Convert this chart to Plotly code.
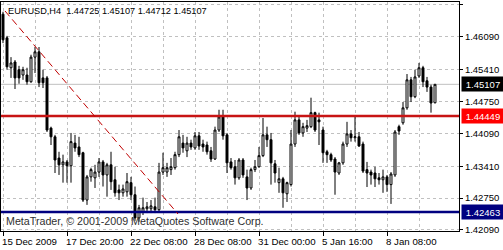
import plotly.graph_objects as go

# ---------------- data (EURUSD, H4) ----------------
opens = [1.4656, 1.4607, 1.4545, 1.4557, 1.4541, 1.4530, 1.4530, 1.4516, 1.4567, 1.4578,
         1.4524, 1.4524, 1.4420, 1.4402, 1.4358, 1.4344, 1.4350, 1.4342, 1.4389, 1.4381,
         1.4369, 1.4271, 1.4319, 1.4317, 1.4329, 1.4350, 1.4323, 1.4344, 1.4313, 1.4292,
         1.4286, 1.4288, 1.4307, 1.4282, 1.4234, 1.4247, 1.4253, 1.4253, 1.4257, 1.4251,
         1.4329, 1.4329, 1.4334, 1.4338, 1.4365, 1.4389, 1.4373, 1.4389, 1.4379, 1.4404,
         1.4387, 1.4385, 1.4373, 1.4356, 1.4416, 1.4443, 1.4406, 1.4350, 1.4340, 1.4317,
         1.4354, 1.4319, 1.4296, 1.4334, 1.4340, 1.4363, 1.4406, 1.4396, 1.4346, 1.4307,
         1.4315, 1.4284, 1.4303, 1.4387, 1.4437, 1.4410, 1.4420, 1.4423, 1.4452, 1.4437,
         1.4416, 1.4371, 1.4365, 1.4356, 1.4327, 1.4348, 1.4387, 1.4408, 1.4400, 1.4402,
         1.4387, 1.4334, 1.4329, 1.4327, 1.4317, 1.4313, 1.4319, 1.4303, 1.4323, 1.4423,
         1.4431, 1.4462, 1.4520, 1.4485, 1.4528, 1.4545, 1.4518, 1.4505, 1.44725]
highs = [1.4661, 1.4611, 1.4567, 1.4561, 1.4549, 1.4547, 1.4545, 1.4572, 1.4588, 1.4588,
         1.4541, 1.4528, 1.4423, 1.4406, 1.4371, 1.4365, 1.4354, 1.4410, 1.4406, 1.4402,
         1.4371, 1.4323, 1.4338, 1.4344, 1.4358, 1.4354, 1.4348, 1.4371, 1.4340, 1.4303,
         1.4303, 1.4327, 1.4319, 1.4299, 1.4261, 1.4276, 1.4267, 1.4271, 1.4276, 1.4348,
         1.4369, 1.4348, 1.4358, 1.4371, 1.4416, 1.4406, 1.4402, 1.4396, 1.4412, 1.4412,
         1.4396, 1.4392, 1.4381, 1.4423, 1.4458, 1.4458, 1.4410, 1.4358, 1.4354, 1.4358,
         1.4358, 1.4334, 1.4338, 1.4354, 1.4381, 1.4441, 1.4423, 1.4410, 1.4354, 1.4338,
         1.4319, 1.4309, 1.4416, 1.4454, 1.4447, 1.4431, 1.4437, 1.4483, 1.4454, 1.4452,
         1.4423, 1.4375, 1.4369, 1.4360, 1.4350, 1.4392, 1.4433, 1.4416, 1.4443, 1.4412,
         1.4392, 1.4350, 1.4334, 1.4340, 1.4327, 1.4334, 1.4323, 1.4329, 1.4416, 1.4427,
         1.4474, 1.4532, 1.4526, 1.4541, 1.4555, 1.4549, 1.4526, 1.4510, 1.45107]
lows = [1.4596, 1.4541, 1.4524, 1.4501, 1.4512, 1.4520, 1.4510, 1.4514, 1.4534, 1.4505,
        1.4503, 1.4412, 1.4385, 1.4327, 1.4323, 1.4307, 1.4307, 1.4307, 1.4371, 1.4360,
        1.4267, 1.4261, 1.4309, 1.4296, 1.4319, 1.4299, 1.4278, 1.4292, 1.4278, 1.4271,
        1.4278, 1.4278, 1.4271, 1.4228, 1.4226, 1.4240, 1.4244, 1.4244, 1.4244, 1.4247,
        1.4323, 1.4319, 1.4323, 1.4334, 1.4360, 1.4369, 1.4360, 1.4375, 1.4375, 1.4375,
        1.4371, 1.4365, 1.4350, 1.4354, 1.4412, 1.4396, 1.4327, 1.4334, 1.4303, 1.4313,
        1.4317, 1.4271, 1.4292, 1.4329, 1.4338, 1.4360, 1.4381, 1.4303, 1.4307, 1.4286,
        1.4255, 1.4267, 1.4299, 1.4381, 1.4406, 1.4402, 1.4412, 1.4420, 1.4412, 1.4385,
        1.4348, 1.4348, 1.4350, 1.4282, 1.4323, 1.4344, 1.4381, 1.4392, 1.4392, 1.4381,
        1.4327, 1.4298, 1.4303, 1.4298, 1.4303, 1.4286, 1.4288, 1.4263, 1.4319, 1.4406,
        1.4427, 1.4458, 1.4474, 1.4482, 1.4524, 1.4505, 1.4495, 1.4452, 1.44712]
closes = [1.4603, 1.4547, 1.4555, 1.4524, 1.4524, 1.4541, 1.4516, 1.4567, 1.4578, 1.4514,
          1.4514, 1.4416, 1.4402, 1.4354, 1.4344, 1.4350, 1.4342, 1.4392, 1.4379, 1.4365,
          1.4271, 1.4319, 1.4334, 1.4329, 1.4350, 1.4323, 1.4344, 1.4309, 1.4286, 1.4286,
          1.4294, 1.4309, 1.4282, 1.4234, 1.4255, 1.4255, 1.4257, 1.4259, 1.4251, 1.4329,
          1.4338, 1.4338, 1.4340, 1.4365, 1.4402, 1.4379, 1.4389, 1.4381, 1.4404, 1.4383,
          1.4381, 1.4371, 1.4356, 1.4416, 1.4443, 1.4404, 1.4348, 1.4338, 1.4317, 1.4354,
          1.4323, 1.4296, 1.4334, 1.4340, 1.4363, 1.4406, 1.4396, 1.4348, 1.4327, 1.4315,
          1.4286, 1.4307, 1.4387, 1.4437, 1.4410, 1.4423, 1.4425, 1.4452, 1.4416, 1.4433,
          1.4369, 1.4365, 1.4354, 1.4329, 1.4348, 1.4387, 1.4408, 1.4400, 1.4402, 1.4383,
          1.4331, 1.4327, 1.4323, 1.4315, 1.4313, 1.4319, 1.4303, 1.4325, 1.4412, 1.4414,
          1.4462, 1.4520, 1.4485, 1.4526, 1.4545, 1.4516, 1.4505, 1.4472, 1.45107]

x_tick_bars = [0, 16, 32, 48, 64, 80, 96]
x_tick_labels = ["15 Dec 2009", "17 Dec 20:00", "22 Dec 08:00", "28 Dec 08:00",
                 "31 Dec 00:00", "5 Jan 16:00", "8 Jan 08:00"]
y_ticks = [1.46750, 1.46090, 1.45410, 1.44750, 1.44090, 1.43410, 1.42750, 1.42090]

bid_price = 1.45107
resistance = 1.44449
support = 1.42463
trend_bars = [0.5, 43.75]
trend_prices = [1.46626, 1.42421]

title_text = "EURUSD,H4  1.44725 1.45107 1.44712 1.45107"
watermark = "MetaTrader, © 2001-2009 MetaQuotes Software Corp."

# ---------------- figure ----------------
FONT = "Liberation Sans, Arial, sans-serif"
GRID = "#c0c0c0"
bars = list(range(len(opens)))

fig = go.Figure()
fig.add_trace(go.Candlestick(
    x=bars, open=opens, high=highs, low=lows, close=closes,
    increasing=dict(line=dict(color="black", width=1), fillcolor="white"),
    decreasing=dict(line=dict(color="black", width=1), fillcolor="black"),
    whiskerwidth=0, showlegend=False, hoverinfo="skip",
))

# horizontal level lines
fig.add_shape(type="line", xref="paper", x0=0, x1=1, yref="y", y0=bid_price, y1=bid_price,
              line=dict(color="#c0c0c0", width=1), layer="below")
fig.add_shape(type="line", xref="paper", x0=0, x1=1, yref="y", y0=resistance, y1=resistance,
              line=dict(color="#c81414", width=2.5))
fig.add_shape(type="line", xref="paper", x0=0, x1=1, yref="y", y0=support, y1=support,
              line=dict(color="#000080", width=2.5))
# trend line
fig.add_shape(type="line", xref="x", yref="y", x0=trend_bars[0], x1=trend_bars[1],
              y0=trend_prices[0], y1=trend_prices[1],
              line=dict(color="#c00000", width=1, dash="7px,4px"))

# price boxes on the right axis
for val, col in [(bid_price, "#000000"), (resistance, "#ff0000"), (support, "#000080")]:
    fig.add_annotation(xref="paper", x=1, xanchor="left", xshift=2, yref="y", y=val,
                       yanchor="middle", text=f"{val:.5f}", showarrow=False,
                       font=dict(family=FONT, size=9.5, color="white"),
                       bgcolor=col, width=40, height=12, borderpad=1, align="center")

# x-axis date labels, left-aligned at their ticks (MetaTrader style)
for b, lab in zip(x_tick_bars, x_tick_labels):
    fig.add_annotation(xref="x", x=b, xanchor="left", xshift=-3, yref="paper", y=0,
                       yanchor="top", yshift=-3, text=lab, showarrow=False,
                       font=dict(family=FONT, size=9.7, color="black"))

fig.add_annotation(xref="paper", x=0, xanchor="left", xshift=5, yref="paper", y=1,
                   yanchor="top", yshift=-2, text=title_text, showarrow=False,
                   font=dict(family=FONT, size=9.2, color="black"))
fig.add_annotation(xref="paper", x=0, xanchor="left", xshift=3, yref="paper", y=0,
                   yanchor="bottom", yshift=2, text=watermark, showarrow=False,
                   font=dict(family=FONT, size=10.7, color="#303030"))

fig.update_layout(
    width=503, height=250,
    margin=dict(l=1, r=44, t=2, b=19, pad=0, autoexpand=False),
    paper_bgcolor="white", plot_bgcolor="white",
    font=dict(family=FONT, size=9.5, color="black"),
    showlegend=False,
    xaxis=dict(
        range=[-0.5, 114], rangeslider=dict(visible=False),
        tickmode="array", tickvals=x_tick_bars, showticklabels=False,
        automargin=False,
        ticks="outside", ticklen=4, tickcolor="black", tickwidth=1,
        showgrid=True, gridcolor=GRID, gridwidth=1, griddash="3px,3px",
        minor=dict(tickmode="linear", tick0=8, dtick=16, showgrid=True,
                   gridcolor=GRID, gridwidth=1, griddash="3px,3px", ticks=""),
        showline=True, linecolor="black", linewidth=1, mirror=True,
        zeroline=False, fixedrange=True,
    ),
    yaxis=dict(
        side="right", range=[1.42069, 1.46812], automargin=False,
        tickmode="array", tickvals=y_ticks, ticktext=[f"{v:.5f}" for v in y_ticks],
        ticks="outside", ticklen=3, tickcolor="black", tickwidth=1,
        showgrid=True, gridcolor=GRID, gridwidth=1, griddash="3px,3px",
        showline=True, linecolor="black", linewidth=1, mirror=True,
        zeroline=False, fixedrange=True,
    ),
)

fig.write_html("out.html")
